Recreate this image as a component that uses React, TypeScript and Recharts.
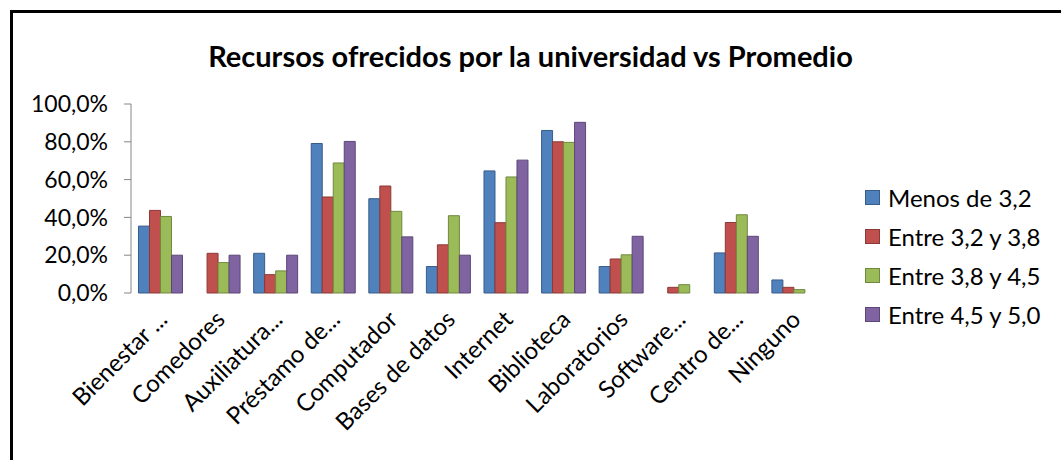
import React from "react";
import { BarChart, Bar, XAxis, YAxis, Legend } from "recharts";

const categories = [
  "Bienestar ...",
  "Comedores",
  "Auxiliatura...",
  "Préstamo de...",
  "Computador",
  "Bases de datos",
  "Internet",
  "Biblioteca",
  "Laboratorios",
  "Software...",
  "Centro de...",
  "Ninguno",
];

const menos32 = [0.354, 0, 0.21, 0.791, 0.499, 0.14, 0.646, 0.86, 0.14, 0, 0.212, 0.069];
const entre32y38 = [0.437, 0.21, 0.097, 0.508, 0.566, 0.255, 0.372, 0.8, 0.18, 0.03, 0.373, 0.03];
const entre38y45 = [0.405, 0.161, 0.117, 0.688, 0.432, 0.409, 0.614, 0.797, 0.202, 0.044, 0.414, 0.018];
const entre45y50 = [0.2, 0.2, 0.2, 0.802, 0.297, 0.2, 0.703, 0.903, 0.3, 0, 0.3, 0];

const yTicks = [0, 0.2, 0.4, 0.6, 0.8, 1];
const boundaryTicks = [0, 1, 2, 3, 4, 5, 6, 7, 8, 9, 10, 11, 12];

const series = [
  { key: "menos", name: "Menos de 3,2", fill: "#4F81BD", stroke: "#385D8A" },
  { key: "e1", name: "Entre 3,2 y 3,8", fill: "#C0504D", stroke: "#8C3836" },
  { key: "e2", name: "Entre 3,8 y 4,5", fill: "#9BBB59", stroke: "#71893F" },
  { key: "e3", name: "Entre 4,5 y 5,0", fill: "#8064A2", stroke: "#5C4776" },
];

const data = categories.map((c, i) => ({
  name: c,
  menos: menos32[i],
  e1: entre32y38[i],
  e2: entre38y45[i],
  e3: entre45y50[i],
}));

const FONT = "Lato, 'Noto Sans', sans-serif";
const AXIS = "#868686";

const fmtPct = (v: number) => (v * 100).toFixed(1).replace(".", ",") + "%";

const CatTick = (props: any) => {
  const { x, y, payload } = props;
  return (
    <g transform={`translate(${x + 9},${y + 20})`}>
      <text
        transform="rotate(-45)"
        textAnchor="end"
        fontSize={24}
        fontFamily={FONT}
        fill="#000"
      >
        {payload.value}
      </text>
    </g>
  );
};

const LegendBox = () => (
  <div style={{ fontFamily: FONT, fontSize: 24, color: "#000" }}>
    {series.map((s) => (
      <div key={s.key} style={{ height: 39, display: "flex", alignItems: "center" }}>
        <span
          style={{
            display: "inline-block",
            width: 13,
            height: 13,
            background: s.fill,
            border: `1px solid ${s.stroke}`,
            marginRight: 8,
          }}
        />
        <span>{s.name}</span>
      </div>
    ))}
  </div>
);

export default function App() {
  return (
    <div
      style={{
        position: "fixed",
        left: 0,
        top: 0,
        width: 1061,
        height: 460,
        overflow: "hidden",
        background: "#fff",
      }}
    >
      <div
        style={{
          position: "absolute",
          left: 10,
          top: 10,
          width: 1100,
          height: 500,
          border: "3px solid #000",
        }}
      />
      <div
        style={{
          position: "absolute",
          left: 0,
          width: 1061,
          top: 38,
          textAlign: "center",
          fontFamily: FONT,
          fontWeight: 700,
          fontSize: 29,
          color: "#000",
        }}
      >
        Recursos ofrecidos por la universidad vs Promedio
      </div>
      <div style={{ position: "absolute", left: 0, top: 0 }}>
        <BarChart
          width={1061}
          height={460}
          data={data}
          margin={{ top: 104, right: 39, bottom: 67, left: 31 }}
          barCategoryGap="13%"
          barGap={0}
        >
          <XAxis
            xAxisId="cat"
            dataKey="name"
            interval={0}
            axisLine={false}
            tickLine={false}
            tick={<CatTick />}
            height={100}
          />
          <XAxis
            xAxisId="num"
            type="number"
            domain={[0, 12]}
            ticks={boundaryTicks}
            tick={false}
            tickSize={7}
            stroke={AXIS}
            height={0}
            allowDataOverflow
          />
          <YAxis
            domain={[0, 1]}
            ticks={yTicks}
            tickFormatter={fmtPct}
            width={100}
            tickSize={7}
            tickMargin={16}
            stroke={AXIS}
            tick={{ fill: "#000", fontSize: 23, fontFamily: FONT }}
          />
          <Legend
            layout="vertical"
            align="right"
            verticalAlign="middle"
            content={<LegendBox />}
            wrapperStyle={{ left: 865, top: 178, width: 200, right: "auto" }}
          />
          {series.map((s) => (
            <Bar
              key={s.key}
              xAxisId="cat"
              dataKey={s.key}
              name={s.name}
              fill={s.fill}
              stroke={s.stroke}
              strokeWidth={1}
              isAnimationActive={false}
            />
          ))}
        </BarChart>
      </div>
    </div>
  );
}
